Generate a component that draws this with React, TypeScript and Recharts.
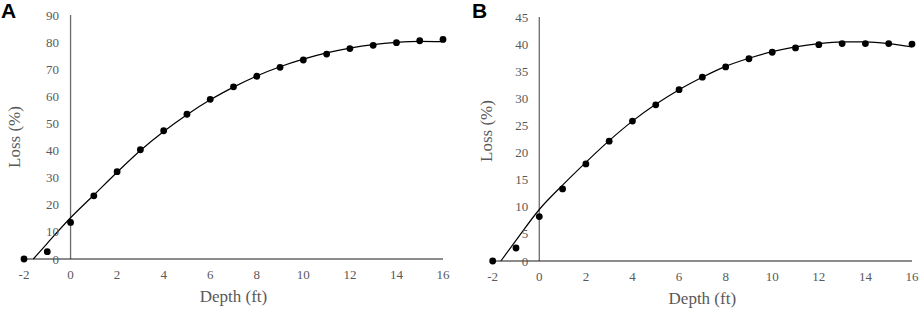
import React from 'react';
import { ComposedChart, XAxis, YAxis, Scatter, Line, ReferenceLine } from 'recharts';

// ---------- data ----------
const depth = [-2, -1, 0, 1, 2, 3, 4, 5, 6, 7, 8, 9, 10, 11, 12, 13, 14, 15, 16];
const lossA = [0, 2.7, 13.5, 23.3, 32.2, 40.3, 47.3, 53.4, 58.9, 63.5, 67.4, 70.7, 73.4, 75.6, 77.6, 78.8, 79.8, 80.5, 81.0];
const lossB = [0, 2.4, 8.2, 13.3, 17.9, 22.1, 25.8, 28.8, 31.6, 33.9, 35.8, 37.3, 38.5, 39.3, 39.9, 40.1, 40.1, 40.1, 40.0];

const trendDepthA = [-1.6, -1, 0, 1, 2, 3, 4, 5, 6, 7, 8, 9, 10, 11, 12, 13, 14, 15, 16];
const trendA = [0, 5.8, 15.2, 23.6, 32.0, 40.0, 47.0, 53.2, 58.7, 63.4, 67.5, 70.9, 73.7, 76.0, 77.8, 79.1, 79.9, 80.3, 80.2];
const trendDepthB = [-1.65, -1, 0, 1, 2, 3, 4, 5, 6, 7, 8, 9, 10, 11, 12, 13, 14, 15, 16];
const trendB = [0, 3.8, 9.5, 14.0, 18.2, 22.2, 25.8, 28.9, 31.6, 33.9, 35.9, 37.4, 38.6, 39.5, 40.1, 40.4, 40.4, 40.1, 39.5];

const xTicks = [-2, 0, 2, 4, 6, 8, 10, 12, 14, 16];
const yTicksA = [0, 10, 20, 30, 40, 50, 60, 70, 80, 90];
const yTicksB = [0, 5, 10, 15, 20, 25, 30, 35, 40, 45];

const xLabel = 'Depth (ft)';
const yLabel = 'Loss (%)';

const toPoints = (xs: number[], ys: number[]) => xs.map((x, i) => ({ x, y: ys[i] }));

// ---------- styles ----------
const SERIF = '"Liberation Serif", "Times New Roman", serif';
const TEXT = '#595959';

type Layout = {
  left: number;
  width: number;
  top: number;
  right: number;
  plotLeft: number;
  xAxisHeight: number;
  yTickDx: number;
  yLabelDx: number;
  yLabelDy: number;
  xLabelDy: number;
  letterLeft: number;
};

const layoutA: Layout = { left: 0, width: 460, top: 15, right: 17, plotLeft: 24, xAxisHeight: 50, yTickDx: 35, yLabelDx: -4, yLabelDy: 0, xLabelDy: 42.7, letterLeft: 1 };
const layoutB: Layout = { left: 460, width: 460, top: 17, right: 8, plotLeft: 32.7, xAxisHeight: 48, yTickDx: 35.5, yLabelDx: -1.2, yLabelDy: -8, xLabelDy: 42.7, letterLeft: 12 };

const Dot = (props: any) => {
  const { cx, cy } = props;
  if (cx == null || cy == null) return null;
  return <circle cx={cx} cy={cy} r={3.4} fill="#000" />;
};

type PanelProps = {
  letter: string;
  points: { x: number; y: number }[];
  trend: { x: number; y: number }[];
  yMax: number;
  yTicks: number[];
  layout: Layout;
};

const Panel = ({ letter, points, trend, yMax, yTicks, layout }: PanelProps) => {
  const plotLeft = layout.plotLeft;
  const YTick = (props: any) => {
    const { y, payload } = props;
    return (
      <text x={plotLeft + layout.yTickDx} y={y} dy="0.35em" textAnchor="end" fontSize={13} fill={TEXT} fontFamily={SERIF}>
        {payload.value}
      </text>
    );
  };
  const XTick = (props: any) => {
    const { x, y, payload } = props;
    return (
      <text x={x} y={y} dy={9.2} textAnchor="middle" fontSize={13} fill={TEXT} fontFamily={SERIF}>
        {payload.value}
      </text>
    );
  };
  const XLab = (props: any) => {
    const vb = props.viewBox || {};
    return (
      <text x={vb.x + vb.width / 2} y={vb.y + layout.xLabelDy} textAnchor="middle" fontSize={17} fill={TEXT} fontFamily={SERIF}>
        {xLabel}
      </text>
    );
  };
  const YLab = (props: any) => {
    const vb = props.viewBox || {};
    const cx = plotLeft + layout.yLabelDx;
    const cy = vb.y + vb.height / 2 + layout.yLabelDy;
    return (
      <text x={cx} y={cy} transform={`rotate(-90, ${cx}, ${cy})`} textAnchor="middle" fontSize={17} fill={TEXT} fontFamily={SERIF}>
        {yLabel}
      </text>
    );
  };
  return (
    <div style={{ position: 'absolute', left: layout.left, top: 0, width: layout.width, height: 309 }}>
      <ComposedChart
        width={layout.width}
        height={309}
        margin={{ top: layout.top, right: layout.right, bottom: 0, left: plotLeft - 1 }}
      >
        <XAxis
          type="number"
          dataKey="x"
          domain={[-2, 16]}
          ticks={xTicks}
          height={layout.xAxisHeight}
          tickLine={false}
          tickSize={0}
          tickMargin={11}
          axisLine={{ stroke: '#1a1a1a', strokeWidth: 1.2 }}
          tick={<XTick />}
          label={<XLab />}
        />
        <YAxis
          type="number"
          dataKey="y"
          domain={[0, yMax]}
          ticks={yTicks}
          width={1}
          tickLine={false}
          tickSize={0}
          tickMargin={0}
          axisLine={false}
          tick={<YTick />}
          label={<YLab />}
        />
        <ReferenceLine x={0} stroke="#6b6b6b" strokeWidth={1.3} />
        <Line
          data={trend}
          dataKey="y"
          type="monotone"
          stroke="#000"
          strokeWidth={1.2}
          dot={false}
          activeDot={false}
          isAnimationActive={false}
        />
        <Scatter data={points} dataKey="y" fill="#000" shape={<Dot />} isAnimationActive={false} />
      </ComposedChart>
      <div
        style={{
          position: 'absolute',
          left: layout.letterLeft,
          top: 0,
          fontFamily: '"Liberation Sans", Arial, sans-serif',
          fontWeight: 'bold',
          fontSize: 21,
          lineHeight: 1,
          color: '#000',
        }}
      >
        {letter}
      </div>
    </div>
  );
};

export default function App() {
  return (
    <div style={{ position: 'absolute', left: 0, top: 0, width: 920, height: 309, background: '#fff', overflow: 'hidden' }}>
      <Panel letter="A" points={toPoints(depth, lossA)} trend={toPoints(trendDepthA, trendA)} yMax={90} yTicks={yTicksA} layout={layoutA} />
      <Panel letter="B" points={toPoints(depth, lossB)} trend={toPoints(trendDepthB, trendB)} yMax={45} yTicks={yTicksB} layout={layoutB} />
    </div>
  );
}
